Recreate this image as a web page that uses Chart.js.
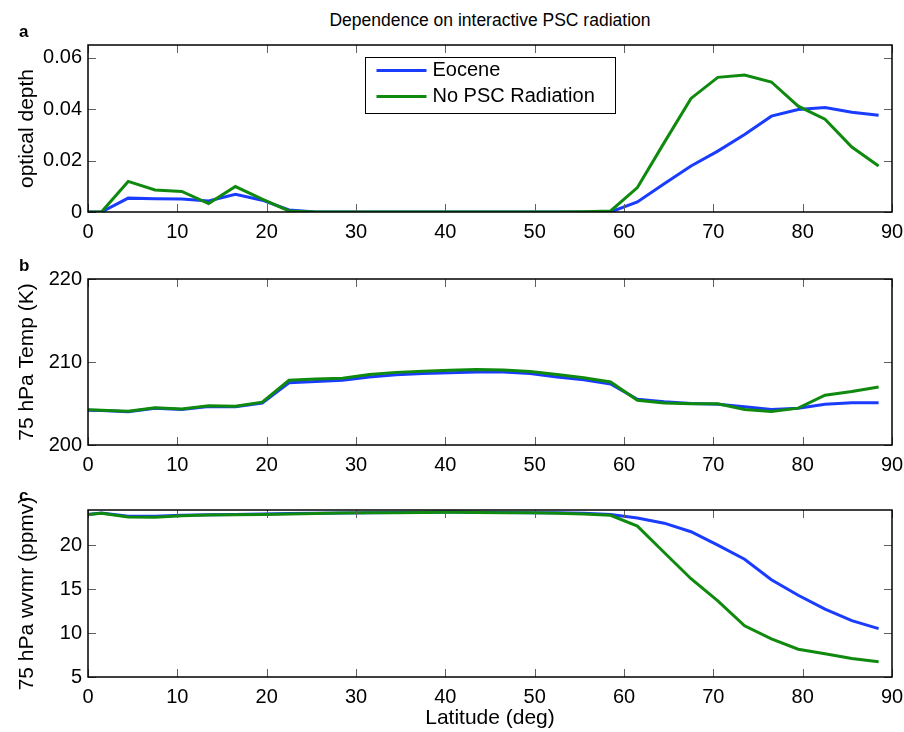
<!DOCTYPE html>
<html>
<head>
<meta charset="utf-8">
<script src="https://cdn.jsdelivr.net/npm/chart.js@4.4.1/dist/chart.umd.min.js"></script>
<style>
  html, body { margin: 0; padding: 0; background: #fff; }
  #wrap { position: relative; width: 904px; height: 732px; font-family: "Liberation Sans", Arial, sans-serif; color: #000; }
  canvas { position: absolute; left: 0; }
  .lbl { position: absolute; left: 19px; font-weight: bold; font-size: 17px; line-height: 1; }
  #title { position: absolute; left: 88px; width: 804px; top: 10px; text-align: center; font-size: 17.5px; }
</style>
</head>
<body>
<div id="wrap">
  <div id="title">Dependence on interactive PSC radiation</div>
  <canvas id="chartA" width="904" height="240" style="top:0px"></canvas>
  <canvas id="chartB" width="904" height="240" style="top:240px"></canvas>
  <canvas id="chartC" width="904" height="252" style="top:480px"></canvas>
  <div class="lbl" style="top:23px">a</div>
  <div class="lbl" style="top:257px">b</div>
  <div class="lbl" style="top:487px">c</div>
</div>
<script>
// latitude of each model point (deg)
const lat = [0, 1.5, 4.5, 7.5, 10.5, 13.5, 16.5, 19.5, 22.5, 25.5, 28.5, 31.5, 34.5, 37.5, 40.5,
  43.5, 46.5, 49.5, 52.5, 55.5, 58.5, 61.5, 64.5, 67.5, 70.5, 73.5, 76.5, 79.5, 82.5, 85.5, 88.5];

const seriesNames = ['Eocene', 'No PSC Radiation'];
const eoceneColor = '#1a3cff';
const noPscColor = '#0f8a0f';

// a: PSC optical depth
const eoceneTau = [0, 0, 0.0054, 0.0052, 0.0051, 0.0043, 0.0069, 0.0046, 0.0008, 0, 0, 0, 0, 0, 0,
  0, 0, 0, 0, 0, 0, 0.0039, 0.0110, 0.0179, 0.0237, 0.0302, 0.0373, 0.0399, 0.0407, 0.0388, 0.0377];
const noPscTau = [0, 0, 0.0119, 0.0086, 0.0080, 0.0033, 0.0099, 0.0050, 0.0004, 0, 0, 0, 0, 0, 0,
  0, 0, 0, 0, 0.0001, 0.0004, 0.0095, 0.0270, 0.0442, 0.0524, 0.0533, 0.0506, 0.0412, 0.0361, 0.0253, 0.0179];

// b: 75 hPa temperature (K)
const eoceneTemp = [204.2, 204.15, 204.0, 204.42, 204.28, 204.65, 204.62, 205.05, 207.5, 207.65, 207.8,
  208.2, 208.45, 208.6, 208.7, 208.8, 208.8, 208.6, 208.2, 207.85, 207.35, 205.5, 205.2, 205.0, 204.9,
  204.6, 204.27, 204.44, 204.92, 205.08, 205.08];
const noPscTemp = [204.24, 204.2, 204.08, 204.48, 204.35, 204.72, 204.68, 205.16, 207.8, 207.95, 208.04,
  208.5, 208.75, 208.9, 209.0, 209.1, 209.05, 208.85, 208.5, 208.1, 207.6, 205.4, 205.05, 204.96, 204.98,
  204.27, 204.04, 204.44, 206.0, 206.44, 207.0];

// c: 75 hPa water vapour mixing ratio (ppmv)
const eoceneWv = [23.5, 23.65, 23.3, 23.3, 23.4, 23.45, 23.5, 23.55, 23.6, 23.62, 23.66, 23.7, 23.72,
  23.74, 23.76, 23.74, 23.72, 23.7, 23.68, 23.62, 23.5, 23.1, 22.5, 21.53, 20.0, 18.4, 16.07, 14.3,
  12.73, 11.42, 10.5];
const noPscWv = [23.48, 23.63, 23.2, 23.18, 23.35, 23.42, 23.45, 23.5, 23.55, 23.6, 23.65, 23.68, 23.7,
  23.72, 23.74, 23.72, 23.7, 23.68, 23.64, 23.55, 23.4, 22.17, 19.17, 16.18, 13.66, 10.82, 9.33, 8.16,
  7.64, 7.11, 6.74];

// tick values
const latTicks = [0, 10, 20, 30, 40, 50, 60, 70, 80, 90];
const tauTicks = [0, 0.02, 0.04, 0.06];
const tempTicks = [200, 210, 220];
const wvTicks = [5, 10, 15, 20];

Chart.defaults.font.family = '"Liberation Sans", Arial, sans-serif';
Chart.defaults.color = '#000';

const toPoints = vals => vals.map((v, i) => ({ x: lat[i], y: v }));

/* matlab style box with inward ticks */
const boxPlugin = {
  id: 'matlabBox',
  afterDatasetsDraw(chart) {
    const { ctx, chartArea: a, scales: { x, y } } = chart;
    const len = 8;
    ctx.save();
    ctx.strokeStyle = '#606060';
    ctx.lineWidth = 1;
    ctx.beginPath();
    x.ticks.forEach(t => {
      const px = Math.round(x.getPixelForValue(t.value)) + 0.5;
      ctx.moveTo(px, a.bottom); ctx.lineTo(px, a.bottom - len);
      ctx.moveTo(px, a.top); ctx.lineTo(px, a.top + len);
    });
    y.ticks.forEach(t => {
      const py = Math.round(y.getPixelForValue(t.value)) + 0.5;
      ctx.moveTo(a.left, py); ctx.lineTo(a.left + len, py);
      ctx.moveTo(a.right, py); ctx.lineTo(a.right - len, py);
    });
    ctx.stroke();
    ctx.strokeStyle = '#000';
    ctx.lineWidth = 1.5;
    ctx.strokeRect(a.left, a.top, a.width, a.height);
    ctx.restore();
  }
};

/* boxed legend inside panel a */
const legendPlugin = {
  id: 'boxLegend',
  afterDraw(chart) {
    const ctx = chart.ctx;
    const bx = 365.5, by = 57.5, bw = 250, bh = 56;
    ctx.save();
    ctx.fillStyle = '#fff';
    ctx.fillRect(bx, by, bw, bh);
    ctx.strokeStyle = '#000';
    ctx.lineWidth = 1;
    ctx.strokeRect(bx, by, bw, bh);
    ctx.font = '20px "Liberation Sans", Arial, sans-serif';
    ctx.textBaseline = 'middle';
    chart.data.datasets.forEach((ds, i) => {
      const yy = by + 13 + i * 26;
      ctx.strokeStyle = ds.borderColor;
      ctx.lineWidth = 3;
      ctx.beginPath();
      ctx.moveTo(bx + 11, yy); ctx.lineTo(bx + 61, yy);
      ctx.stroke();
      ctx.fillStyle = '#000';
      ctx.fillText(ds.label, bx + 67, yy);
    });
    ctx.restore();
  }
};

function makePanel(id, o) {
  return new Chart(document.getElementById(id), {
    type: 'line',
    data: {
      datasets: [
        { label: seriesNames[0], data: toPoints(o.eoc), borderColor: eoceneColor, order: 1 },
        { label: seriesNames[1], data: toPoints(o.nopsc), borderColor: noPscColor, order: 0 }
      ]
    },
    options: {
      responsive: false,
      animation: false,
      layout: { padding: { top: o.top, right: 12, left: 0, bottom: 0 } },
      elements: { point: { radius: 0 }, line: { borderWidth: 3, tension: 0 } },
      scales: {
        x: {
          type: 'linear', min: 0, max: 90,
          grid: { display: false, drawTicks: false }, border: { display: false },
          afterBuildTicks: s => { s.ticks = latTicks.map(v => ({ value: v })); },
          afterFit: s => { s.height = o.xh; s.paddingLeft = 0; s.paddingRight = 0; },
          ticks: { padding: 8, font: { size: 20 }, maxRotation: 0, autoSkip: false },
          title: o.xTitle
            ? { display: true, text: o.xTitle, font: { size: 21 }, padding: { top: 0, bottom: 1 } }
            : { display: false }
        },
        y: {
          min: o.min, max: o.max,
          grid: { display: false, drawTicks: false }, border: { display: false },
          afterBuildTicks: s => { s.ticks = o.ticks.map(v => ({ value: v })); },
          afterFit: s => { s.width = 88; s.paddingTop = 0; s.paddingBottom = 0; },
          ticks: { padding: 6, font: { size: 20 }, callback: o.fmt || (v => String(v)) },
          title: { display: true, text: o.yTitle, font: { size: 21 }, padding: { top: 15, bottom: 0 } }
        }
      },
      plugins: { legend: { display: false }, tooltip: { enabled: false } }
    },
    plugins: o.legend ? [boxPlugin, legendPlugin] : [boxPlugin]
  });
}

makePanel('chartA', {
  eoc: eoceneTau, nopsc: noPscTau, min: 0, max: 0.065, ticks: tauTicks,
  fmt: v => (v === 0 ? '0' : v.toFixed(2)), yTitle: 'optical depth',
  top: 45, xh: 28, legend: true
});
makePanel('chartB', {
  eoc: eoceneTemp, nopsc: noPscTemp, min: 200, max: 220, ticks: tempTicks,
  yTitle: '75 hPa Temp (K)', top: 39, xh: 35
});
makePanel('chartC', {
  eoc: eoceneWv, nopsc: noPscWv, min: 5, max: 24, ticks: wvTicks,
  yTitle: '75 hPa wvmr (ppmv)', top: 30, xh: 55, xTitle: 'Latitude (deg)'
});
</script>
</body>
</html>
